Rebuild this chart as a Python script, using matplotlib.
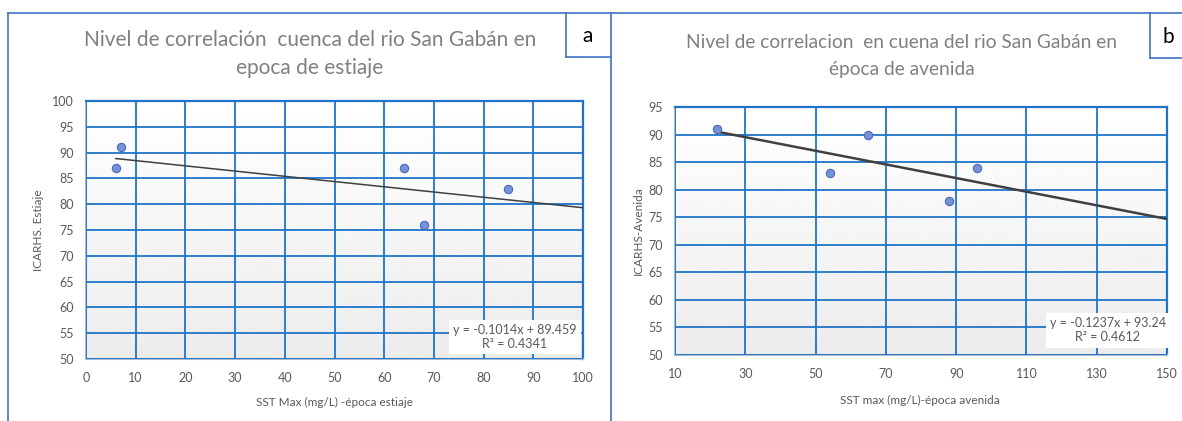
import numpy as np
import matplotlib
matplotlib.use("Agg")
import matplotlib.pyplot as plt
from matplotlib.lines import Line2D

# Panel a: dry season (estiaje)
sst_estiaje = [6, 7, 64, 68, 85]
icarhs_estiaje = [87, 91, 87, 76, 83]
slope_a, intercept_a, r2_a = -0.1014, 89.459, 0.4341

# Panel b: wet season (avenida)
sst_avenida = [22, 54, 65, 88, 96]
icarhs_avenida = [91, 83, 90, 78, 84]
slope_b, intercept_b, r2_b = -0.1237, 93.24, 0.4612

xticks_a = list(range(0, 101, 10))
yticks_a = list(range(50, 101, 5))
xticks_b = list(range(10, 151, 20))
yticks_b = list(range(50, 96, 5))

W, H = 1182, 421
GRID = "#1f74c9"
FRAME = "#4472c4"
TEXT = "#595959"
TITLE = "#808080"

plt.rcParams["font.family"] = ["Lato", "DejaVu Sans"]


def px_rect(left, top, right, bottom):
    return [left / W, 1 - bottom / H, (right - left) / W, (bottom - top) / H]


def fig_line(fig, x0, y0, x1, y1):
    fig.add_artist(Line2D([x0 / W, x1 / W], [1 - y0 / H, 1 - y1 / H],
                          color=FRAME, lw=1.2, transform=fig.transFigure))


def style_axes(ax, xticks, yticks):
    # soft vertical gradient behind the grid
    grad = np.linspace(1.0, 0.925, 256).reshape(-1, 1)
    ax.imshow(grad, extent=[0, 1, 0, 1], transform=ax.transAxes, aspect="auto",
              cmap="gray", vmin=0, vmax=1, zorder=0)
    ax.set_xlim(xticks[0], xticks[-1])
    ax.set_ylim(yticks[0], yticks[-1])
    ax.set_xticks(xticks)
    ax.set_yticks(yticks)
    ax.grid(True, color=GRID, lw=1.3, zorder=1)
    ax.set_axisbelow(False)
    ax.tick_params(length=0, labelsize=9, labelcolor=TEXT, pad=9)
    for side in ("top", "right"):
        ax.spines[side].set_color(GRID)
        ax.spines[side].set_linewidth(1.6)
    for side in ("left", "bottom"):
        ax.spines[side].set_color("#a9bccf")
        ax.spines[side].set_linewidth(1.5)


def draw_panel(ax, x, y, slope, intercept, x_end, lw):
    xs = np.array([min(x), x_end])
    ax.plot(xs, slope * xs + intercept, color="#404040", lw=lw, zorder=3)
    ax.scatter(x, y, s=36, facecolor="#7891d6", edgecolor="#4a6abd",
               linewidth=0.8, zorder=4)


def equation(slope, intercept, r2):
    sign = "-" if slope < 0 else ""
    return f"y = {sign}{abs(slope):g}x + {intercept:g}\nR\u00b2 = {r2:g}"


fig = plt.figure(figsize=(W / 100, H / 100), dpi=100)

# --- panel a ---
ax_a = fig.add_axes(px_rect(86, 101, 583, 359))
style_axes(ax_a, xticks_a, yticks_a)
draw_panel(ax_a, sst_estiaje, icarhs_estiaje, slope_a, intercept_a,
           xticks_a[-1], 1.1)
ax_a.text(0.863, 0.085, equation(slope_a, intercept_a, r2_a),
          transform=ax_a.transAxes, ha="center", va="center", fontsize=9,
          color=TEXT, linespacing=1.25, zorder=5,
          bbox=dict(facecolor="white", edgecolor="none", pad=3))
ax_a.set_xlabel("SST Max (mg/L) -época estiaje", fontsize=8.5, color=TEXT)
ax_a.set_ylabel("ICARHS. Estiaje", fontsize=8.5, color=TEXT)
ax_a.xaxis.set_label_coords((335 - 86) / 497, (359 - 402) / 258)
ax_a.yaxis.set_label_coords((38 - 86) / 497, 0.5)
ax_a.xaxis.label.set_verticalalignment("center")
ax_a.yaxis.label.set_verticalalignment("center")

fig.text(310 / W, 1 - 40 / H, "Nivel de correlación  cuenca del rio San Gabán en",
         ha="center", va="center", fontsize=15, color=TITLE)
fig.text(310 / W, 1 - 68 / H, "epoca de estiaje",
         ha="center", va="center", fontsize=15, color=TITLE)

# --- panel b ---
ax_b = fig.add_axes(px_rect(675, 107, 1167, 355))
style_axes(ax_b, xticks_b, yticks_b)
draw_panel(ax_b, sst_avenida, icarhs_avenida, slope_b, intercept_b,
           xticks_b[-1], 1.8)
ax_b.text(0.88, 0.10, equation(slope_b, intercept_b, r2_b),
          transform=ax_b.transAxes, ha="center", va="center", fontsize=9,
          color=TEXT, linespacing=1.25, zorder=5,
          bbox=dict(facecolor="white", edgecolor="none", pad=3))
ax_b.set_xlabel("SST max (mg/L)-época avenida", fontsize=8.5, color=TEXT)
ax_b.set_ylabel("ICARHS-Avenida", fontsize=8.5, color=TEXT)
ax_b.xaxis.set_label_coords((920 - 675) / 492, (355 - 400) / 248)
ax_b.yaxis.set_label_coords((638 - 675) / 492, 0.5)
ax_b.xaxis.label.set_verticalalignment("center")
ax_b.yaxis.label.set_verticalalignment("center")

fig.text(902 / W, 1 - 42 / H, "Nivel de correlacion  en cuena del rio San Gabán en",
         ha="center", va="center", fontsize=13.8, color=TITLE)
fig.text(902 / W, 1 - 70 / H, "época de avenida",
         ha="center", va="center", fontsize=13.8, color=TITLE)

# --- frames and panel letters ---
fig_line(fig, 8, 13, 1182, 13)
fig_line(fig, 8, 13, 8, 421)
fig_line(fig, 611, 13, 611, 421)
fig_line(fig, 566, 13, 566, 57)
fig_line(fig, 566, 57, 611, 57)
fig_line(fig, 1150, 13, 1150, 58)
fig_line(fig, 1150, 58, 1182, 58)
fig.text(588 / W, 1 - 36 / H, "a", ha="center", va="center", fontsize=15, color="black")
fig.text(1168 / W, 1 - 37 / H, "b", ha="center", va="center", fontsize=15, color="black")

fig.savefig("out.png", dpi=100)
